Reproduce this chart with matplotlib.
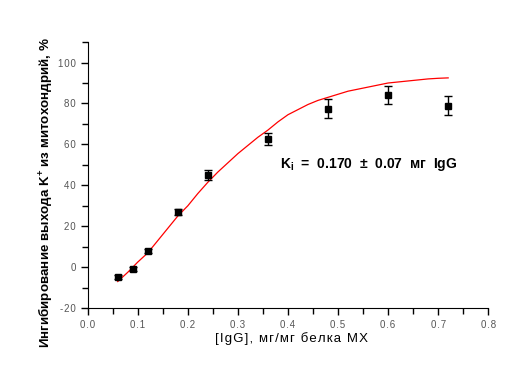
import matplotlib
matplotlib.use("Agg")
import matplotlib.pyplot as plt
from matplotlib.ticker import MultipleLocator

plt.rcParams['font.family'] = ['Liberation Sans', 'DejaVu Sans']

# experimental points
conc = [0.06, 0.09, 0.12, 0.18, 0.24, 0.36, 0.48, 0.60, 0.72]
inhib = [-5, -1, 8, 27, 45, 62.5, 77.5, 84, 79]
err = [1.0, 1.0, 1.0, 1.5, 2.5, 3.0, 4.5, 4.5, 4.5]

# fitted curve
fit_x = [0.06, 0.08, 0.10, 0.12, 0.14, 0.16, 0.18, 0.20, 0.22, 0.24, 0.26,
         0.28, 0.30, 0.32, 0.34, 0.36, 0.38, 0.40, 0.42, 0.44, 0.46, 0.48,
         0.50, 0.52, 0.54, 0.56, 0.58, 0.60, 0.62, 0.64, 0.66, 0.68, 0.70, 0.72]
fit_y = [-7, -2.5, 2.5, 7, 13, 19, 25, 30, 36, 41.5, 46.5,
         51, 55.5, 59.5, 63.5, 67, 71, 74.5, 77, 79.5, 81.5, 83,
         84.5, 86, 87, 88, 89, 90, 90.5, 91, 91.5, 92, 92.3, 92.5]

xticks = [i / 10 for i in range(9)]
yticks = list(range(-20, 101, 20))


def spaced(s, sep='\u200a'):
    # rough letter spacing like the original export
    return sep.join(s)


fig = plt.figure(figsize=(5.26, 3.79), dpi=100)
ax = fig.add_axes([0.1667, 0.187, 0.7615, 0.702])

ax.plot(fit_x, fit_y, color='red', lw=0.9)
ax.errorbar(conc, inhib, yerr=err, fmt='s', color='black', ms=4.5,
            elinewidth=1, capsize=3, capthick=1)

ax.set_xlim(0, 0.8)
ax.set_ylim(-20, 110)
ax.set_xticks(xticks)
ax.set_xticklabels([spaced(f'{v:.1f}') for v in xticks])
ax.set_yticks(yticks)
ax.set_yticklabels([spaced(str(v)) for v in yticks])
ax.xaxis.set_minor_locator(MultipleLocator(0.05))
ax.yaxis.set_minor_locator(MultipleLocator(10))

for s in ['top', 'right']:
    ax.spines[s].set_visible(False)
ax.tick_params(which='both', direction='out', labelsize=7, labelcolor='#555555', width=1)
ax.tick_params(which='major', length=5)
ax.tick_params(which='minor', length=4)

ax.set_xlabel(spaced('[IgG], мг/мг белка МХ', '\u200a'), fontsize=9.5)
ax.xaxis.set_label_coords((292 - 87.7) / 400.6, -0.09)
ax.set_ylabel('Ингибирование выхода K$^\\mathregular{+}$ из митохондрий, %', fontsize=9.6,
              fontweight='bold')
ax.yaxis.set_label_coords(-0.085, (308 - 192) / 266)

ax.text(0.385, 50, 'K$_\\mathregular{i}$  =  0.170  ±  0.07  мг  IgG', fontsize=10,
        fontweight='bold', va='center')

fig.savefig('out.png', dpi=100)
